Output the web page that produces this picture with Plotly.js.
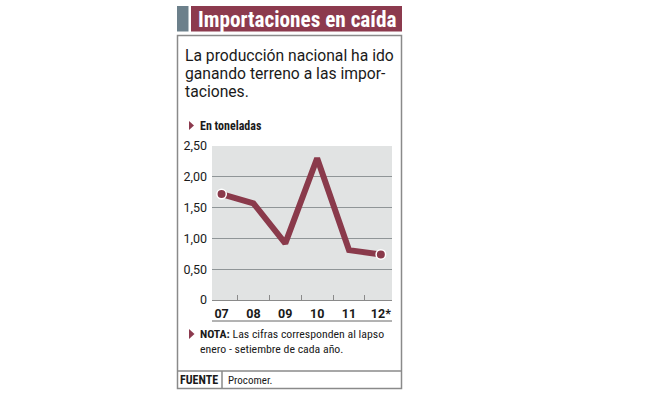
<!DOCTYPE html>
<html>
<head>
<meta charset="utf-8">
<script src="https://cdn.plot.ly/plotly-3.0.1.min.js"></script>
<style>html,body{margin:0;padding:0;background:#fff;}#chart{width:653px;height:398px;}</style>
</head>
<body>
<div id="chart"></div>
<script>
// Data
const years = ['07', '08', '09', '10', '11', '12*'];
const toneladas = [1.72, 1.57, 0.92, 2.30, 0.81, 0.74];
const yTickVals = [0, 0.5, 1, 1.5, 2, 2.5];
const yTickText = ['0', '0,50', '1,00', '1,50', '2,00', '2,50'];

const FONT = 'Roboto, "Open Sans", Arial, sans-serif';
const FONTC = '"Roboto Condensed", Roboto, Arial, sans-serif';
const L = 212, R = 392, T = 146, B = 300, W = 653, H = 398;
const px = x => (x - L) / (R - L);
const py = y => (B - y) / (B - T);

const idx = years.map((_, i) => i);
const endIdx = [0, idx.length - 1];

const traces = [
  {x: idx, y: toneladas, type: 'scatter', mode: 'lines',
   line: {color: '#8a3a4b', width: 6}, hoverinfo: 'skip'},
  {x: endIdx.map(i => idx[i]), y: endIdx.map(i => toneladas[i]), type: 'scatter', mode: 'markers',
   marker: {color: '#8a3a4b', size: 9.5, line: {color: '#ffffff', width: 1.5}}, hoverinfo: 'skip'}
];

const shapes = [
  {type: 'rect', xref: 'paper', yref: 'paper', x0: px(177), x1: px(188.5), y0: py(6), y1: py(31.5), fillcolor: '#6c808b', line: {width: 0}, layer: 'below'},
  {type: 'rect', xref: 'paper', yref: 'paper', x0: px(191), x1: px(402), y0: py(6), y1: py(31.5), fillcolor: '#8c3a4e', line: {width: 0}, layer: 'below'},
  {type: 'rect', xref: 'paper', yref: 'paper', x0: px(177.5), x1: px(401.5), y0: py(35.5), y1: py(388.5), line: {color: '#8a8a8a', width: 1.5}},
  {type: 'line', xref: 'paper', yref: 'paper', x0: px(177.5), x1: px(401.5), y0: py(371), y1: py(371), line: {color: '#8a8a8a', width: 1.5}},
  {type: 'line', xref: 'paper', yref: 'paper', x0: px(222), x1: px(222), y0: py(371), y1: py(388.5), line: {color: '#8a8a8a', width: 1.5}},
  {type: 'line', xref: 'paper', yref: 'paper', x0: px(212), x1: px(392), y0: py(321), y1: py(321), line: {color: '#666666', width: 1}},
  {type: 'path', xref: 'paper', yref: 'paper', path: 'M ' + px(189) + ' ' + py(121) + ' L ' + px(194) + ' ' + py(125.5) + ' L ' + px(189) + ' ' + py(130) + ' Z', fillcolor: '#8c3a4e', line: {width: 0}},
  {type: 'path', xref: 'paper', yref: 'paper', path: 'M ' + px(189) + ' ' + py(329) + ' L ' + px(194.5) + ' ' + py(334) + ' L ' + px(189) + ' ' + py(339) + ' Z', fillcolor: '#8c3a4e', line: {width: 0}}
];

function ann(text, x, y, font) {
  return {text: text, xref: 'paper', yref: 'paper', x: px(x), y: py(y), xanchor: 'left', yanchor: 'middle',
    showarrow: false, font: font};
}
const reg = (size) => ({family: FONT, size: size, color: '#1a1a1a'});
const cond = (size, color, weight) => ({family: FONTC, size: size, color: color || '#1a1a1a', weight: weight || 'normal'});

const annotations = [
  ann('<b>Importaciones en caída</b>', 196, 19, cond(21.2, '#ffffff', 'bold')),
  ann('La producción nacional ha ido', 183, 55, reg(15.7)),
  ann('ganando terreno a las impor-', 183, 73.5, reg(15.7)),
  ann('taciones.', 183, 91.5, reg(15.7)),
  ann('<b>En toneladas</b>', 198, 126, cond(12, '#1a1a1a', 'bold')),
  ann('<b>NOTA:</b> Las cifras corresponden al lapso', 198, 334, cond(11.8)),
  ann('enero - setiembre de cada año.', 198, 349, cond(11.8)),
  ann('<b>FUENTE</b>', 178, 380, cond(12, '#1a1a1a', 'bold')),
  ann('Procomer.', 226, 380, cond(11))
];

const layout = {
  width: W, height: H,
  margin: {l: L, r: W - R, t: T, b: H - B, pad: 0},
  paper_bgcolor: '#ffffff', plot_bgcolor: '#e1e3e3',
  showlegend: false,
  font: {family: FONT, color: '#1a1a1a'},
  xaxis: {range: [-0.3, 5.35], tickvals: idx, ticktext: years, ticks: '',
    showgrid: false, zeroline: false, showline: true, linecolor: '#8a8a8a', linewidth: 1,
    tickfont: {family: FONT, size: 12.5, color: '#1a1a1a', weight: 'bold'}, ticklabelstandoff: 2,
    minor: {tickvals: [0.5, 1.5, 2.5, 3.5, 4.5], ticks: 'inside', ticklen: 5, tickcolor: '#8a8a8a', tickwidth: 1},
    fixedrange: true},
  yaxis: {range: [0, 2.5], tickvals: yTickVals, ticktext: yTickText, ticks: '',
    showgrid: true, gridcolor: '#8f9597', gridwidth: 1, zeroline: false, showline: false,
    tickfont: {family: FONT, size: 12.5, color: '#1a1a1a'}, ticklabelstandoff: 4, fixedrange: true},
  shapes: shapes,
  annotations: annotations
};

Plotly.newPlot('chart', traces, layout, {displayModeBar: false, staticPlot: true});
</script>
</body>
</html>
